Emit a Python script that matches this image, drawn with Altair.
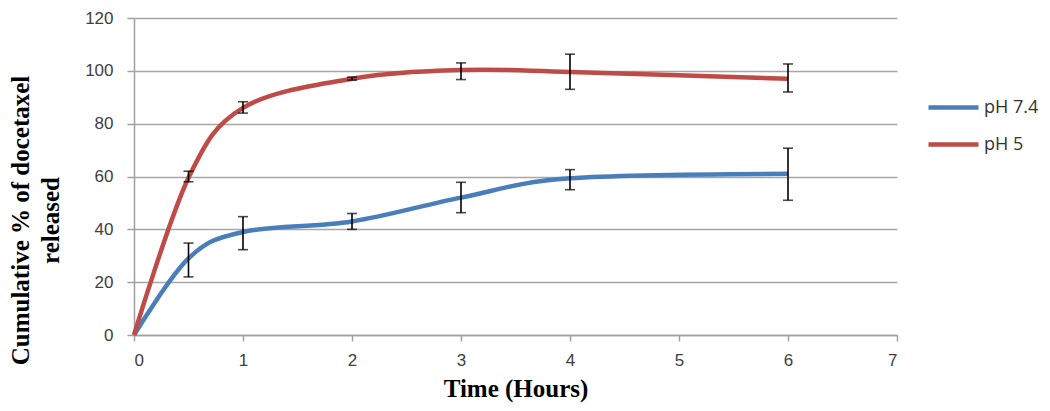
import altair as alt
import pandas as pd

time = [0, 0.5, 1, 2, 3, 4, 6]
ph74 = [0, 29, 39, 43, 52, 59.3, 61]
ph74_lo = [0, 22, 32.3, 40, 46.3, 55, 51]
ph74_hi = [0, 34.8, 44.8, 46, 57.8, 62.6, 70.7]
ph5 = [0, 59.5, 86, 97, 100.3, 99.6, 97]
ph5_lo = [0, 58, 84, 96.5, 96.7, 93, 92]
ph5_hi = [0, 62, 88.3, 97.6, 103, 106.3, 102.6]
series = ["pH 7.4", "pH 5"]
colors = ["#4a7ebb", "#be4b48"]

rows = []
for name, v, lo, hi in [(series[0], ph74, ph74_lo, ph74_hi), (series[1], ph5, ph5_lo, ph5_hi)]:
    for t, a, b, c in zip(time, v, lo, hi):
        rows.append({"time": t, "value": a, "lo": b, "hi": c, "series": name, "has_err": c > b})
df = pd.DataFrame(rows)

xs = alt.X("time:Q", scale=alt.Scale(domain=[0, 7], nice=False),
           axis=alt.Axis(values=list(range(8)), title="Time (Hours)", grid=False,
                         tickSize=6, labelPadding=11, titlePadding=8, format="d"))
ys = alt.Y("value:Q", scale=alt.Scale(domain=[0, 120], nice=False),
           axis=alt.Axis(values=list(range(0, 121, 20)),
                         title=["Cumulative %  of docetaxel", "released"],
                         tickSize=7, labelPadding=14, titleX=-101, titleY=202,
                         titleAngle=-90, titleAlign="center", titleBaseline="bottom",
                         titleLineHeight=30))

lines = alt.Chart(df).mark_line(interpolate="cardinal", strokeWidth=4.5).encode(
    x=xs, y=ys,
    color=alt.Color("series:N", scale=alt.Scale(domain=series, range=colors),
                    sort=series,
                    legend=alt.Legend(title=None, orient="none", legendX=792, legendY=62,
                                      symbolType="stroke", symbolSize=2500,
                                      symbolStrokeWidth=4.5, labelFontSize=18,
                                      labelFont="Open Sans", labelColor="#333333",
                                      labelOffset=3, rowPadding=-2)),
    detail="series:N",
)

err = alt.Chart(df).transform_filter("datum.has_err").encode(x="time:Q")
err_rule = err.mark_rule(color="black", strokeWidth=1.6).encode(y="lo:Q", y2="hi:Q")
cap_lo = err.mark_tick(color="black", thickness=1.6, size=10, orient="horizontal").encode(y="lo:Q")
cap_hi = err.mark_tick(color="black", thickness=1.6, size=10, orient="horizontal").encode(y="hi:Q")

chart = alt.layer(lines, err_rule, cap_lo, cap_hi).properties(
    width=763, height=317,
    autosize=alt.AutoSizeParams(type="none"),
    padding={"left": 126, "top": 10, "right": 145, "bottom": 68},
).configure_view(stroke=None).configure_axis(
    labelFont="Liberation Sans", labelFontSize=17, labelColor="#404040",
    titleFont="Liberation Serif", titleFontSize=25, titleFontWeight="bold", titleColor="black",
    domainColor="#a0a0a0", domainWidth=1.5, tickColor="#a0a0a0", tickWidth=1.5,
    gridColor="#a6a6a6", gridWidth=1.5, gridOpacity=1,
)

chart.save("out.html", embed_options={"renderer": "svg", "actions": False})
